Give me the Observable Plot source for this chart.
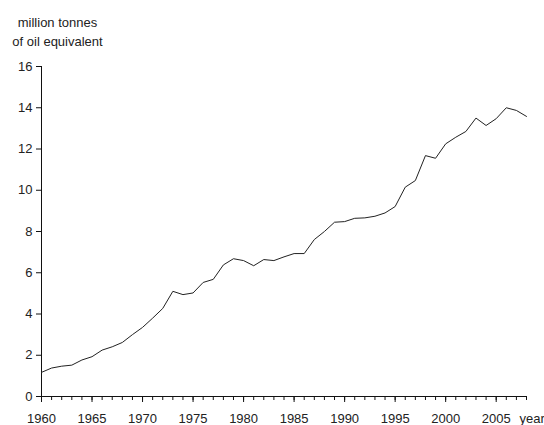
<!DOCTYPE html>
<html>
<head>
<meta charset="utf-8">
<script src="https://cdn.jsdelivr.net/npm/d3@7"></script>
<script src="https://cdn.jsdelivr.net/npm/@observablehq/plot@0.6"></script>
<style>
  html, body { margin: 0; padding: 0; background: white; }
</style>
</head>
<body>
<div id="chart"></div>
<script>
const years = [1960,1961,1962,1963,1964,1965,1966,1967,1968,1969,1970,1971,1972,1973,1974,1975,1976,1977,1978,1979,1980,1981,1982,1983,1984,1985,1986,1987,1988,1989,1990,1991,1992,1993,1994,1995,1996,1997,1998,1999,2000,2001,2002,2003,2004,2005,2006,2007,2008];
const values = [1.17,1.38,1.47,1.52,1.77,1.93,2.25,2.41,2.62,3.0,3.35,3.8,4.27,5.1,4.94,5.02,5.53,5.68,6.38,6.68,6.59,6.34,6.64,6.59,6.77,6.93,6.93,7.61,8.0,8.45,8.48,8.64,8.66,8.74,8.9,9.21,10.15,10.47,11.68,11.55,12.25,12.57,12.85,13.5,13.14,13.47,14.0,13.87,13.58];
const xMajorTicks = [1960,1965,1970,1975,1980,1985,1990,1995,2000,2005];
const yTicks = [0,2,4,6,8,10,12,14,16];
const yLabel = "million tonnes\nof oil equivalent";
const xLabel = "year";

const data = years.map((y, i) => ({year: y, value: values[i]}));

const chart = Plot.plot({
  width: 544,
  height: 425,
  marginLeft: 41,
  marginRight: 18,
  marginTop: 66,
  marginBottom: 29,
  x: {domain: [1960, 2008]},
  y: {domain: [0, 16]},
  style: {fontFamily: "'Liberation Sans', Arial, sans-serif", fontSize: "13px", color: "#222", background: "white"},
  marks: [
    Plot.axisX({ticks: years, tickSize: 4, tickFormat: () => "", label: null, stroke: "#111"}),
    Plot.axisX({ticks: xMajorTicks, tickSize: 6, tickPadding: 11, tickFormat: d => String(d), label: null, stroke: "#111"}),
    Plot.axisY({ticks: yTicks, tickSize: 5, tickPadding: 4, label: null, stroke: "#111"}),
    Plot.ruleY([0], {stroke: "#111"}),
    Plot.ruleX([1960], {y1: 0, y2: 16, stroke: "#111"}),
    Plot.line(data, {x: "year", y: "value", stroke: "#222", strokeWidth: 1}),
    Plot.text([yLabel], {frameAnchor: "top-left", dx: 16, dy: -53, textAnchor: "middle", lineAnchor: "top", lineHeight: 1.46, fill: "#222"}),
    Plot.text([xLabel], {frameAnchor: "bottom-right", dx: -7, dy: 17, textAnchor: "start", lineAnchor: "top", fill: "#222"})
  ]
});
document.getElementById("chart").appendChild(chart);
</script>
</body>
</html>
